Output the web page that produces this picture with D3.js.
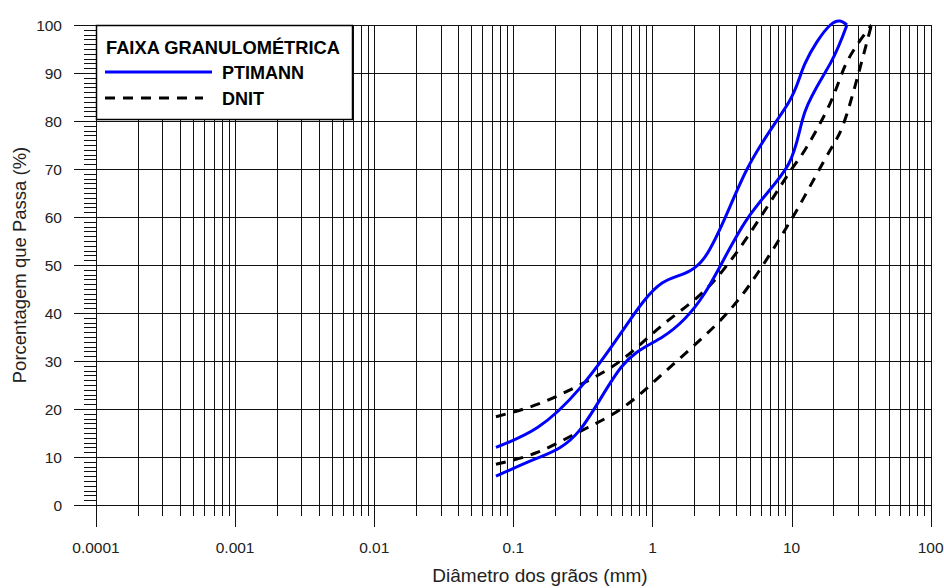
<!DOCTYPE html>
<html>
<head>
<meta charset="utf-8">
<script src="https://cdn.jsdelivr.net/npm/d3@7"></script>
<style>
  body { margin: 0; background: #fff; }
  text { font-family: "Liberation Sans", Arial, sans-serif; fill: #222; }
</style>
</head>
<body>
<script>
// sieve openings (mm) and % passing for each curve
var sieves     = [0.075, 0.15, 0.3, 0.6, 1.18, 2.36, 4.75, 9.5, 12.5, 19, 25, 37.5];
var ptimannMin = [6, 9.8, 15.6, 28.8, 35, 44, 59.4, 71, 82, 92, 100, null];
var ptimannMax = [12, 16.2, 24.3, 36, 46.3, 51.5, 69.8, 83.8, 92, 100, 100, null];
var dnitMin    = [8.5, 11, 15.3, 20.1, 27.3, 35.2, 45, 58.5, 64.5, 74, 81.5, 100];
var dnitMax    = [18.4, 21, 25, 30.2, 37.5, 44.6, 55.6, 69, 74, 83.8, 92.3, 100];

var xDecades = [0.0001, 0.001, 0.01, 0.1, 1, 10, 100];
var xLabels  = ["0.0001", "0.001", "0.01", "0.1", "1", "10", "100"];
var yTicks   = [0, 10, 20, 30, 40, 50, 60, 70, 80, 90, 100];

var W = 944, H = 588;
var pLeft = 96, pRight = 930.7, pTop = 25, pBottom = 505;

var svg = d3.select("body").append("svg")
  .attr("width", W).attr("height", H);

var x = d3.scaleLog().domain([0.0001, 100]).range([pLeft, pRight]);
var y = d3.scaleLinear().domain([0, 100]).range([pBottom, pTop]);

// minor positions 2..9 per decade
var minor = [];
xDecades.slice(0, -1).forEach(function(d) {
  for (var k = 2; k <= 9; k++) minor.push(d * k);
});

var grid = svg.append("g").attr("stroke", "#111").attr("stroke-width", 1).attr("shape-rendering", "crispEdges");

// vertical grid + ticks
grid.selectAll("line.vmin").data(minor).enter().append("line")
  .attr("x1", function(d) { return Math.round(x(d)) + 0.5; })
  .attr("x2", function(d) { return Math.round(x(d)) + 0.5; })
  .attr("y1", pTop).attr("y2", pBottom + 11);
grid.selectAll("line.vmaj").data(xDecades).enter().append("line")
  .attr("x1", function(d) { return Math.round(x(d)) + 0.5; })
  .attr("x2", function(d) { return Math.round(x(d)) + 0.5; })
  .attr("y1", pTop).attr("y2", pBottom + 22);

// horizontal grid
grid.selectAll("line.h").data(yTicks).enter().append("line")
  .attr("x1", pLeft - 22).attr("x2", pRight)
  .attr("y1", function(d) { return Math.round(y(d)) + 0.5; })
  .attr("y2", function(d) { return Math.round(y(d)) + 0.5; });

// minor y ticks every 1%
grid.selectAll("line.ym").data(d3.range(0, 101).filter(function(v) { return v % 10 != 0; }))
  .enter().append("line")
  .attr("x1", pLeft - 12).attr("x2", pLeft)
  .attr("y1", function(d) { return Math.round(y(d)) + 0.5; })
  .attr("y2", function(d) { return Math.round(y(d)) + 0.5; });

// tick labels
svg.selectAll("text.xl").data(xDecades).enter().append("text")
  .attr("x", function(d) { return x(d); })
  .attr("y", 553)
  .attr("text-anchor", "middle")
  .attr("font-size", 15.5)
  .text(function(d, i) { return xLabels[i]; });

svg.selectAll("text.yl").data(yTicks).enter().append("text")
  .attr("x", 62)
  .attr("y", function(d) { return y(d) + 6; })
  .attr("text-anchor", "end")
  .attr("font-size", 15.5)
  .text(function(d) { return d; });

// axis titles
svg.append("text")
  .attr("x", 540).attr("y", 582)
  .attr("text-anchor", "middle").attr("font-size", 19)
  .text("Diâmetro dos grãos (mm)");
svg.append("text")
  .attr("transform", "translate(26,265) rotate(-90)")
  .attr("text-anchor", "middle").attr("font-size", 18.5)
  .text("Porcentagem que Passa (%)");

// curves
var line = d3.line()
  .defined(function(d) { return d[1] != null; })
  .x(function(d) { return x(d[0]); })
  .y(function(d) { return y(d[1]); })
  .curve(d3.curveNatural);

function pairs(vals) {
  return sieves.map(function(s, i) { return [s, vals[i]]; }).filter(function(p) { return p[1] != null; });
}

var curves = [
  { vals: dnitMin, color: "#000", dash: "10,8" },
  { vals: dnitMax, color: "#000", dash: "10,8" },
  { vals: ptimannMin, color: "#0000ff", dash: null },
  { vals: ptimannMax, color: "#0000ff", dash: null }
];

svg.selectAll("path.curve").data(curves).enter().append("path")
  .attr("d", function(c) { return line(pairs(c.vals)); })
  .attr("fill", "none")
  .attr("stroke", function(c) { return c.color; })
  .attr("stroke-width", 3)
  .attr("stroke-dasharray", function(c) { return c.dash; });

// legend
var lg = svg.append("g");
lg.append("rect")
  .attr("x", pLeft + 0.5).attr("y", pTop + 0.5)
  .attr("width", 256).attr("height", 94)
  .attr("fill", "#fff").attr("stroke", "#000").attr("stroke-width", 1.5);
lg.append("text").attr("x", 106).attr("y", 54)
  .attr("font-size", 18.3).attr("font-weight", "bold").style("fill", "#000")
  .text("FAIXA GRANULOMÉTRICA");
lg.append("line").attr("x1", 105).attr("x2", 212).attr("y1", 72).attr("y2", 72)
  .attr("stroke", "#0000ff").attr("stroke-width", 3);
lg.append("text").attr("x", 222).attr("y", 79)
  .attr("font-size", 18).attr("font-weight", "bold").style("fill", "#000")
  .text("PTIMANN");
lg.append("line").attr("x1", 105).attr("x2", 203).attr("y1", 98).attr("y2", 98)
  .attr("stroke", "#000").attr("stroke-width", 3).attr("stroke-dasharray", "10,8");
lg.append("text").attr("x", 222).attr("y", 105)
  .attr("font-size", 18).attr("font-weight", "bold").style("fill", "#000")
  .text("DNIT");
</script>
</body>
</html>
